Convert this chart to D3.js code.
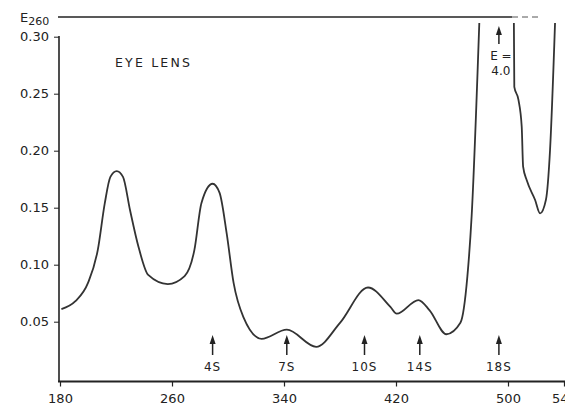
<!doctype html>
<html>
<head>
<meta charset="utf-8" />
<title>Eye lens</title>
<style>
    body { margin: 0; background: #fff; }
    svg text { font-family: "DejaVu Sans", sans-serif; fill: #222; }
    .axis path, .axis line { stroke: #222; }
</style>
</head>
<body>
<div id="chart"></div>
<script src="https://cdn.jsdelivr.net/npm/d3@7"></script>
<script>
// fraction (tube position) and absorbance at 260 nm
var fraction = [181, 191, 200, 207, 212, 216, 220.5, 225, 230, 236, 243, 257, 269, 276, 281, 289, 294, 299, 304, 311, 324, 342, 363, 380, 400, 416, 420.5, 436, 444, 456, 466, 471, 474, 479.5,
                null,
                504.2, 504.5, 507.4, 509.8, 510.8, 513.4, 519.3, 522.9, 527.1, 530, 533.6];
var e260 = [0.061, 0.068, 0.084, 0.113, 0.154, 0.177, 0.182, 0.177, 0.148, 0.116, 0.091, 0.083, 0.090, 0.113, 0.154, 0.171, 0.163, 0.128, 0.084, 0.054, 0.035, 0.043, 0.028, 0.049, 0.080, 0.063, 0.057, 0.069, 0.060, 0.039, 0.049, 0.090, 0.142, 0.312,
            null,
            0.312, 0.256, 0.245, 0.221, 0.186, 0.174, 0.157, 0.145, 0.157, 0.200, 0.312];

var xTicks = [180, 260, 340, 420, 500, 540];
var yTicks = [0.05, 0.10, 0.15, 0.20, 0.25, 0.30];

var markers = ["4S", "7S", "10S", "14S", "18S"];
var markerPos = [289, 342, 397.5, 437, 493.5];

var w = 565, h = 415;

var svg = d3.select("#chart").append("svg").attr("width", w).attr("height", h);

var x = d3.scaleLinear().domain([180, 540]).range([60, 564]);
var y = d3.scaleLinear().domain([0, 0.30]).range([378.7, 36.7]);

// x axis
var xAxis = svg.append("g").attr("class", "axis")
    .attr("transform", "translate(0,381.5)")
    .call(d3.axisBottom(x).tickValues(xTicks).tickSize(5).tickSizeOuter(0).tickFormat(d3.format("d")));
xAxis.select(".domain").attr("d", "M58,0H566").attr("stroke-width", 2.2);
xAxis.selectAll(".tick line").attr("stroke-width", 1.2);
xAxis.selectAll("text").attr("font-size", 13).attr("dy", "1.05em");

// y axis
var yAxis = svg.append("g").attr("class", "axis")
    .attr("transform", "translate(59,0)")
    .call(d3.axisLeft(y).tickValues(yTicks).tickSize(5).tickSizeOuter(0).tickFormat(d3.format(".2f")));
yAxis.select(".domain").attr("d", "M0,36H0V381").attr("stroke-width", 1.6);
yAxis.selectAll("text").attr("font-size", 13).attr("x", -10);

// top frame line and E260 label
svg.append("line").attr("x1", 58).attr("x2", 512).attr("y1", 17).attr("y2", 17)
    .attr("stroke", "#222").attr("stroke-width", 1.3);
svg.append("line").attr("x1", 512).attr("x2", 542).attr("y1", 17).attr("y2", 17)
    .attr("stroke", "#555").attr("stroke-width", 1).attr("stroke-dasharray", "6,4");
var lab = svg.append("text").attr("x", 20).attr("y", 22).attr("font-size", 13);
lab.append("tspan").text("E");
lab.append("tspan").attr("font-size", 11).attr("dy", 3).text("260");

svg.append("text").attr("x", 115).attr("y", 67).attr("font-size", 12.5)
    .attr("letter-spacing", 2.2).text("EYE LENS");

// curve
var pts = fraction.map(function(d, i) { return { x: d, y: e260[i] }; });
var line = d3.line()
    .defined(function(d) { return d.x != null; })
    .x(function(d) { return x(d.x); })
    .y(function(d) { return y(d.y); })
    .curve(d3.curveMonotoneX);
svg.append("path").datum(pts).attr("d", line)
    .attr("fill", "none").attr("stroke", "#333").attr("stroke-width", 1.8);

// sedimentation markers
var mk = svg.selectAll(".mk").data(markers).enter().append("g")
    .attr("transform", function(d, i) { return "translate(" + x(markerPos[i]) + ",0)"; });
mk.append("line").attr("y1", 342).attr("y2", 355).attr("stroke", "#222").attr("stroke-width", 1.5);
mk.append("path").attr("d", "M0,335L-3,344L3,344Z").attr("fill", "#222");
mk.append("text").attr("y", 371).attr("text-anchor", "middle").attr("font-size", 12)
    .attr("letter-spacing", 1).text(function(d) { return d; });

// off-scale peak note
var px = x(493.5);
svg.append("line").attr("x1", px).attr("x2", px).attr("y1", 33).attr("y2", 44)
    .attr("stroke", "#222").attr("stroke-width", 1.5);
svg.append("path").attr("d", "M" + px + ",26L" + (px - 3) + ",35L" + (px + 3) + ",35Z").attr("fill", "#222");
svg.append("text").attr("x", px + 2).attr("y", 60).attr("text-anchor", "middle").attr("font-size", 12).text("E =");
svg.append("text").attr("x", px + 2).attr("y", 75).attr("text-anchor", "middle").attr("font-size", 12).text("4.0");
</script>
</body>
</html>
